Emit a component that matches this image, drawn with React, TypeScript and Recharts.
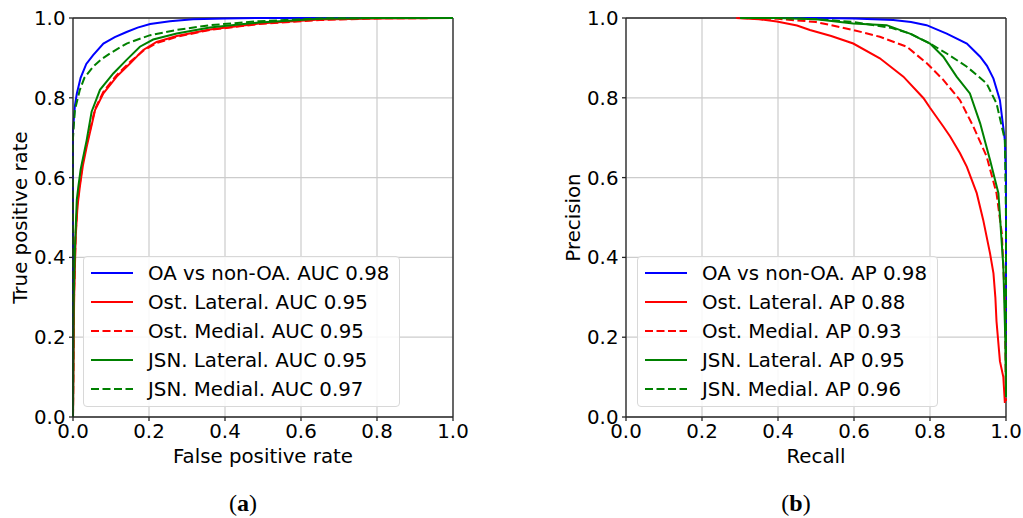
import React from "react";
import {
  LineChart,
  Line,
  XAxis,
  YAxis,
  CartesianGrid,
  ReferenceLine,
} from "recharts";

// ROC curves (false positive rate / true positive rate)
const rocOaFpr = [0, 0, 0.005, 0.01, 0.02, 0.035, 0.053, 0.08, 0.11, 0.141, 0.17, 0.203, 0.255, 0.316, 0.4, 0.5, 0.7, 1.0];
const rocOaTpr = [0, 0.72, 0.78, 0.81, 0.85, 0.885, 0.907, 0.936, 0.952, 0.965, 0.976, 0.985, 0.992, 0.997, 0.999, 1.0, 1.0, 1.0];

const rocOstLatFpr = [0, 0.003, 0.007, 0.012, 0.018, 0.026, 0.036, 0.058, 0.08, 0.115, 0.15, 0.185, 0.22, 0.273, 0.36, 0.49, 0.65, 0.8, 1.0];
const rocOstLatTpr = [0, 0.3, 0.45, 0.53, 0.577, 0.63, 0.677, 0.769, 0.811, 0.853, 0.886, 0.92, 0.94, 0.955, 0.971, 0.986, 0.996, 0.999, 1.0];

const rocOstMedFpr = [0, 0.003, 0.007, 0.012, 0.018, 0.026, 0.036, 0.058, 0.08, 0.115, 0.15, 0.185, 0.22, 0.273, 0.36, 0.49, 0.65, 0.8, 1.0];
const rocOstMedTpr = [0, 0.32, 0.46, 0.54, 0.585, 0.64, 0.685, 0.772, 0.815, 0.857, 0.89, 0.918, 0.937, 0.953, 0.97, 0.985, 0.995, 0.999, 1.0];

const rocJsnLatFpr = [0, 0.002, 0.005, 0.01, 0.014, 0.02, 0.036, 0.049, 0.071, 0.106, 0.141, 0.176, 0.211, 0.273, 0.36, 0.49, 0.65, 0.8, 1.0];
const rocJsnLatTpr = [0, 0.3, 0.42, 0.544, 0.577, 0.62, 0.694, 0.765, 0.82, 0.861, 0.895, 0.928, 0.946, 0.961, 0.976, 0.989, 0.998, 1.0, 1.0];

const rocJsnMedFpr = [0, 0, 0.005, 0.018, 0.03, 0.053, 0.075, 0.097, 0.141, 0.203, 0.273, 0.36, 0.49, 0.65, 0.8, 1.0];
const rocJsnMedTpr = [0, 0.7, 0.77, 0.82, 0.85, 0.878, 0.897, 0.911, 0.936, 0.957, 0.97, 0.982, 0.992, 0.999, 1.0, 1.0];

// Precision-recall curves
const prOaRec = [0.3, 0.4, 0.5, 0.6, 0.703, 0.75, 0.791, 0.844, 0.897, 0.932, 0.95, 0.967, 0.984, 0.997, 1.0, 1.0];
const prOaPrec = [1.0, 1.0, 1.0, 0.999, 0.995, 0.99, 0.982, 0.961, 0.936, 0.903, 0.88, 0.848, 0.794, 0.694, 0.6, 0.05];

const prOstLatRec = [0.29, 0.35, 0.397, 0.45, 0.484, 0.54, 0.598, 0.668, 0.73, 0.783, 0.8, 0.835, 0.853, 0.879, 0.897, 0.923, 0.94, 0.958, 0.967, 0.972, 0.975, 0.984, 0.993, 0.997];
const prOstLatPrec = [1.0, 0.997, 0.991, 0.981, 0.97, 0.955, 0.936, 0.899, 0.853, 0.799, 0.775, 0.728, 0.703, 0.661, 0.627, 0.561, 0.494, 0.41, 0.36, 0.3, 0.24, 0.14, 0.1, 0.035];

const prOstMedRec = [0.3, 0.4, 0.5, 0.598, 0.668, 0.739, 0.791, 0.835, 0.879, 0.914, 0.949, 0.975, 0.989, 0.997, 1.0];
const prOstMedPrec = [1.0, 0.998, 0.99, 0.97, 0.953, 0.928, 0.887, 0.845, 0.794, 0.728, 0.653, 0.561, 0.46, 0.293, 0.04];

const prJsnLatRec = [0.3, 0.4, 0.5, 0.598, 0.686, 0.747, 0.8, 0.835, 0.87, 0.905, 0.932, 0.958, 0.98, 0.993, 0.998, 1.0];
const prJsnLatPrec = [1.0, 1.0, 0.997, 0.986, 0.982, 0.961, 0.936, 0.903, 0.853, 0.811, 0.736, 0.644, 0.561, 0.377, 0.2, 0.06];

const prJsnMedRec = [0.3, 0.4, 0.5, 0.6, 0.7, 0.75, 0.8, 0.844, 0.897, 0.949, 0.975, 0.993, 0.997, 1.0, 1.0];
const prJsnMedPrec = [1.0, 1.0, 0.997, 0.99, 0.975, 0.96, 0.936, 0.911, 0.878, 0.836, 0.786, 0.711, 0.694, 0.5, 0.05];

const ticks = [0, 0.2, 0.4, 0.6, 0.8, 1.0];

const rocLabels = [
  "OA vs non-OA. AUC 0.98",
  "Ost. Lateral. AUC 0.95",
  "Ost. Medial. AUC 0.95",
  "JSN. Lateral. AUC 0.95",
  "JSN. Medial. AUC 0.97",
];
const prLabels = [
  "OA vs non-OA. AP 0.98",
  "Ost. Lateral. AP 0.88",
  "Ost. Medial. AP 0.93",
  "JSN. Lateral. AP 0.95",
  "JSN. Medial. AP 0.96",
];

const colors = ["#0000ff", "#ff0000", "#ff0000", "#008000", "#008000"];
const dashed = [false, false, true, false, true];

const FONT = "'DejaVu Sans', sans-serif";
const FS = 19.8;
const DASH = "8 3.5";
const SPINE = "#262626";

const zip = (xs: number[], ys: number[]) => xs.map((x, i) => ({ x, y: ys[i] }));

const rocSeries = [
  zip(rocOaFpr, rocOaTpr),
  zip(rocOstLatFpr, rocOstLatTpr),
  zip(rocOstMedFpr, rocOstMedTpr),
  zip(rocJsnLatFpr, rocJsnLatTpr),
  zip(rocJsnMedFpr, rocJsnMedTpr),
];
const prSeries = [
  zip(prOaRec, prOaPrec),
  zip(prOstLatRec, prOstLatPrec),
  zip(prOstMedRec, prOstMedPrec),
  zip(prJsnLatRec, prJsnLatPrec),
  zip(prJsnMedRec, prJsnMedPrec),
];

const tickStyle = { fill: "#000", fontSize: FS, fontFamily: FONT };
const fmt = (v: number) => v.toFixed(1);

function Panel({
  series,
  xLabel,
  yLabel,
}: {
  series: { x: number; y: number }[][];
  xLabel: string;
  yLabel: string;
}) {
  return (
    <LineChart width={470} height={518} margin={{ top: 18, right: 17, bottom: 0, left: 0 }}>
      <CartesianGrid stroke="#cccccc" strokeWidth={1.2} />
      <XAxis
        type="number"
        dataKey="x"
        domain={[0, 1]}
        ticks={ticks}
        interval={0}
        tickFormatter={fmt}
        height={101}
        tick={tickStyle}
        tickSize={4}
        tickMargin={3}
        axisLine={{ stroke: SPINE, strokeWidth: 1.3 }}
        tickLine={{ stroke: SPINE, strokeWidth: 1.3 }}
        label={{
          value: xLabel,
          position: "insideTop",
          offset: 32,
          fill: "#000",
          fontSize: FS,
          fontFamily: FONT,
        }}
      />
      <YAxis
        type="number"
        dataKey="y"
        domain={[0, 1]}
        ticks={ticks}
        interval={0}
        tickFormatter={fmt}
        width={73}
        tick={tickStyle}
        tickSize={4}
        tickMargin={3.5}
        axisLine={{ stroke: SPINE, strokeWidth: 1.3 }}
        tickLine={{ stroke: SPINE, strokeWidth: 1.3 }}
        label={{
          value: yLabel,
          angle: -90,
          position: "insideLeft",
          offset: 20,
          fill: "#000",
          fontSize: FS,
          fontFamily: FONT,
          style: { textAnchor: "middle" },
        }}
      />
      <ReferenceLine y={1} stroke={SPINE} strokeWidth={1.3} />
      <ReferenceLine x={1} stroke={SPINE} strokeWidth={1.3} />
      {series.map((d, i) => (
        <Line
          key={i}
          data={d}
          dataKey="y"
          type="linear"
          stroke={colors[i]}
          strokeWidth={2}
          strokeDasharray={dashed[i] ? DASH : undefined}
          dot={false}
          activeDot={false}
          isAnimationActive={false}
        />
      ))}
    </LineChart>
  );
}

function LegendBox({ labels, left }: { labels: string[]; left: number }) {
  return (
    <div
      style={{
        position: "absolute",
        left,
        top: 256,
        padding: "1.5px 10px 0 7px",
        height: 151,
        boxSizing: "border-box",
        border: "1px solid #d8d8d8",
        borderRadius: 4,
        background: "rgba(255,255,255,0.85)",
        fontFamily: FONT,
        fontSize: FS,
        color: "#000",
      }}
    >
      {labels.map((t, i) => (
        <div key={i} style={{ display: "flex", alignItems: "center", height: 29, whiteSpace: "nowrap" }}>
          <svg width={42} height={6} style={{ marginRight: 15, flex: "none" }}>
            <line
              x1={0}
              y1={3}
              x2={42}
              y2={3}
              stroke={colors[i]}
              strokeWidth={2}
              strokeDasharray={dashed[i] ? DASH : undefined}
            />
          </svg>
          <span>{t}</span>
        </div>
      ))}
    </div>
  );
}

function Caption({ letter, center }: { letter: string; center: number }) {
  return (
    <div
      style={{
        position: "absolute",
        left: center - 40,
        width: 80,
        top: 489,
        lineHeight: "28px",
        textAlign: "center",
        fontFamily: "'Liberation Serif', serif",
        fontSize: 24,
        color: "#000",
      }}
    >
      (<b>{letter}</b>)
    </div>
  );
}

export default function App() {
  return (
    <div style={{ position: "absolute", left: 0, top: 0, width: 1023, height: 518, background: "#fff" }}>
      <div style={{ position: "absolute", left: 0, top: 0 }}>
        <Panel series={rocSeries} xLabel="False positive rate" yLabel="True positive rate" />
      </div>
      <div style={{ position: "absolute", left: 553, top: 0 }}>
        <Panel series={prSeries} xLabel="Recall" yLabel="Precision" />
      </div>
      <LegendBox labels={rocLabels} left={83} />
      <LegendBox labels={prLabels} left={637} />
      <Caption letter="a" center={243} />
      <Caption letter="b" center={796} />
    </div>
  );
}
